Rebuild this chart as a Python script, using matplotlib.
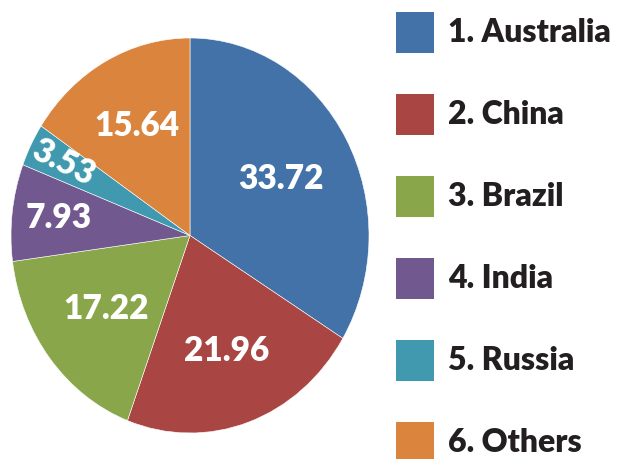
import matplotlib
matplotlib.use("Agg")
import matplotlib.pyplot as plt
from matplotlib.patches import Rectangle
import numpy as np

categories = ["1. Australia", "2. China", "3. Brazil", "4. India", "5. Russia", "6. Others"]
values = [33.72, 21.96, 17.22, 7.93, 3.53, 15.64]
labels = ["33.72", "21.96", "17.22", "7.93", "3.53", "15.64"]
colors = ["#4372A8", "#A94542", "#89A64B", "#71588F", "#4099AF", "#DB843D"]
label_r = [0.58, 0.62, 0.60, 0.74, 0.80, 0.63]
label_rot = [0, 0, 0, 0, True, 0]

W, H = 617, 459
fig = plt.figure(figsize=(W / 100, H / 100), dpi=100)
FONT = "Lato"

ax = fig.add_axes([11 / W, (H - 433) / H, 358 / W, 395 / H])
wedges, _ = ax.pie(values, colors=colors, startangle=90, counterclock=False,
                   wedgeprops=dict(edgecolor="white", linewidth=0.4))
ax.set_aspect("auto")
ax.set_xlim(-1, 1)
ax.set_ylim(-1, 1)
ax.axis("off")

for w, lab, r, rot in zip(wedges, labels, label_r, label_rot):
    ang = np.deg2rad((w.theta1 + w.theta2) / 2)
    x, y = r * np.cos(ang), r * np.sin(ang)
    rotation = 0
    if rot:
        rotation = np.rad2deg(ang) - 180 + 1
    ax.text(x, y, lab, ha="center", va="center", color="white", fontsize=24,
            fontweight="heavy", family=FONT, rotation=rotation,
            rotation_mode="anchor")

# legend
box_x, box_w, box_h = 396, 38, 41
tops = [12, 94, 176, 258, 340, 422]
for c, cat, t in zip(colors, categories, tops):
    fig.patches.append(Rectangle((box_x / W, (H - t - box_h) / H), box_w / W, box_h / H,
                                 transform=fig.transFigure, facecolor=c, edgecolor="none"))
    fig.text(448 / W, (H - t - box_h / 2) / H, cat, ha="left", va="center",
             color="#231F20", fontsize=23, fontweight="heavy", family=FONT)

fig.savefig("out.png", dpi=100)
